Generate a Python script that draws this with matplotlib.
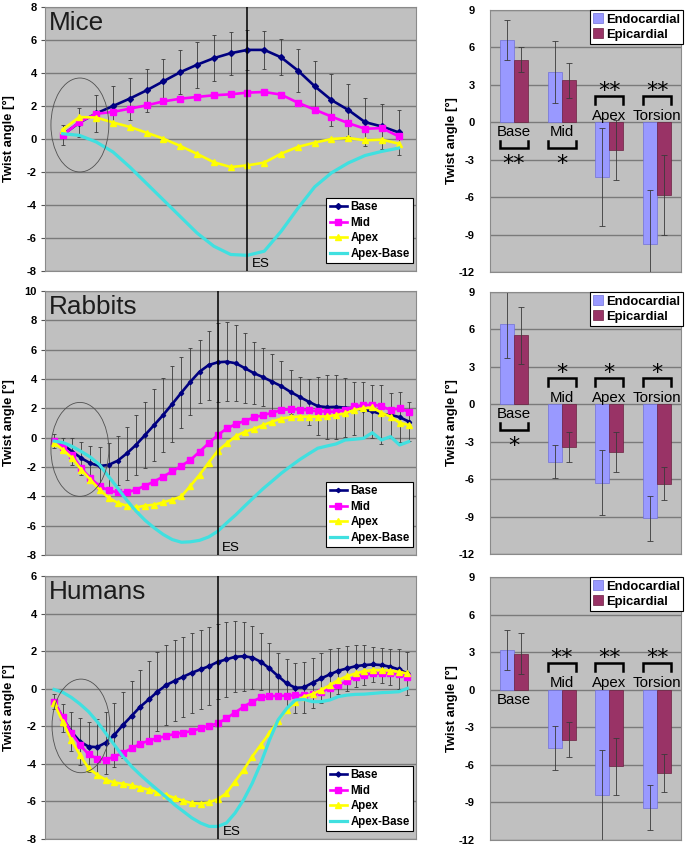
# -*- coding: utf-8 -*-
# Twist angle curves (mice / rabbits / humans) with endo/epi bar summaries

import numpy as np
import matplotlib

matplotlib.use("Agg")
import matplotlib.pyplot as plt
from matplotlib.patches import Ellipse
from matplotlib.transforms import blended_transform_factory

plt.rcParams["font.family"] = ["Liberation Sans", "DejaVu Sans"]
plt.rcParams["axes.unicode_minus"] = False

# ----------------
# Data: line plots
# ----------------

mice_base = [0.25, 1.0, 1.55, 2.0, 2.45, 2.95, 3.5, 4.05, 4.5, 4.9, 5.2,
             5.4, 5.4, 4.95, 4.15, 3.2, 2.36, 1.76, 1.02, 0.76, 0.4]
mice_base_sd = [0.6, 0.9, 1.1, 1.2, 1.27, 1.3, 1.33, 1.35, 1.38, 1.4, 1.3,
                1.2, 1.15, 1.1, 1.3, 1.5, 1.56, 1.6, 1.44, 1.36, 1.36]
mice_mid = [0.22, 1.03, 1.53, 1.64, 1.84, 2.04, 2.28, 2.44, 2.55, 2.65, 2.71,
            2.81, 2.85, 2.69, 2.2, 1.78, 1.36, 0.96, 0.62, 0.66, 0.16]
mice_apex = [0.57, 1.33, 1.3, 1.0, 0.73, 0.38, 0.02, -0.42, -0.9, -1.41, -1.7,
             -1.6, -1.43, -0.89, -0.48, -0.22, 0.0, 0.06, -0.08, -0.04, -0.28]
mice_apex_base = [0.32, 0.22, -0.18, -0.79, -1.7, -2.7, -3.7, -4.7, -5.7, -6.5, -7.0,
                  -7.05, -6.8, -5.6, -4.2, -2.9, -2.05, -1.45, -1.0, -0.75, -0.55]

rab_base = [-0.23, -0.5, -0.95, -1.4, -1.75, -1.93, -1.86, -1.57, -1.07, -0.5,
            0.18, 0.86, 1.55, 2.3, 3.07, 3.82, 4.5, 4.95, 5.14, 5.18,
            5.07, 4.73, 4.39, 4.12, 3.81, 3.51, 3.12, 2.78, 2.45, 2.15,
            2.08, 2.1, 2.05, 2.0, 1.9, 1.8, 1.6, 1.55, 1.4, 1.1]
rab_base_sd = [0.5, 0.5, 0.9, 1.13, 1.18, 1.32, 1.52, 1.68, 1.82, 2.05,
               2.27, 2.44, 2.55, 2.6, 2.43, 2.28, 2.15, 2.35, 2.7, 2.7,
               2.6, 2.4, 2.1, 1.96, 1.9, 1.75, 1.5, 1.38, 1.58, 2.0,
               2.2, 2.2, 2.0, 1.8, 1.9, 1.8, 2.0, 1.5, 1.7, 1.3]
rab_mid = [-0.2, -0.65, -1.2, -2.1, -2.76, -3.3, -3.6, -3.73, -3.73, -3.55,
           -3.28, -2.99, -2.65, -2.3, -1.92, -1.52, -0.95, -0.38, 0.18, 0.63,
           0.93, 1.15, 1.38, 1.54, 1.7, 1.88, 1.94, 1.92, 1.86, 1.8,
           1.78, 1.77, 1.88, 2.15, 2.2, 2.26, 2.15, 1.88, 2.0, 1.77]
rab_apex = [-0.34, -0.84, -1.4, -2.2, -2.87, -3.55, -4.1, -4.45, -4.64, -4.75,
            -4.64, -4.57, -4.41, -4.23, -4.0, -3.28, -2.53, -1.7, -0.9, -0.38,
            0.11, 0.41, 0.6, 0.86, 1.1, 1.3, 1.4, 1.43, 1.43, 1.43,
            1.45, 1.54, 1.65, 1.88, 2.0, 2.06, 1.7, 1.43, 1.02, 0.86]
rab_apex_base = [-0.23, -0.34, -0.6, -0.95, -1.33, -1.85, -2.65, -3.44, -4.27, -5.0,
                 -5.63, -6.15, -6.6, -6.95, -7.13, -7.1, -7.0, -6.77, -6.38, -5.8,
                 -5.25, -4.64, -4.05, -3.47, -2.95, -2.42, -1.95, -1.5, -1.1, -0.72,
                 -0.57, -0.43, -0.16, -0.11, -0.05, 0.34, -0.16, 0.07, -0.5, -0.27]

hum_base = [-0.7, -1.55, -2.28, -2.81, -3.08, -3.11, -2.87, -2.46, -1.93, -1.45,
            -0.96, -0.57, -0.16, 0.19, 0.42, 0.64, 0.85, 1.03, 1.2, 1.43,
            1.56, 1.7, 1.73, 1.66, 1.43, 1.08, 0.67, 0.28, 0.05, 0.07,
            0.32, 0.55, 0.76, 0.96, 1.08, 1.2, 1.26, 1.29, 1.26, 1.17,
            1.03, 0.81]
hum_base_sd = [0.4, 0.75, 1.06, 1.23, 1.33, 1.48, 1.65, 1.72, 1.77, 1.87,
               1.95, 2.04, 2.09, 2.13, 2.16, 2.12, 2.12, 2.12, 2.09, 1.99,
               2.0, 1.88, 1.83, 1.67, 1.51, 1.33, 1.21, 1.28, 1.33, 1.36,
               1.33, 1.33, 1.33, 1.22, 1.19, 1.12, 1.06, 0.94, 0.93, 0.97,
               1.06, 1.15]
hum_mid = [-0.69, -1.49, -2.34, -2.99, -3.49, -3.72, -3.79, -3.61, -3.42, -3.17,
           -2.94, -2.76, -2.64, -2.51, -2.41, -2.34, -2.25, -2.11, -1.98, -1.84,
           -1.58, -1.27, -0.96, -0.69, -0.46, -0.39, -0.38, -0.37, -0.35, -0.34,
           -0.3, -0.16, 0.02, 0.19, 0.42, 0.64, 0.73, 0.81, 0.81, 0.81,
           0.76, 0.64]
hum_apex = [-0.78, -1.75, -2.73, -3.52, -4.23, -4.58, -4.85, -4.99, -5.06, -5.15,
            -5.26, -5.38, -5.5, -5.65, -5.82, -5.96, -6.09, -6.12, -6.05, -5.88,
            -5.56, -4.94, -4.32, -3.61, -2.98, -2.36, -1.72, -1.12, -0.7, -0.42,
            -0.28, -0.07, 0.19, 0.46, 0.67, 0.81, 0.94, 0.99, 0.99, 0.96,
            0.9, 0.81]
hum_apex_base = [-0.04, -0.19, -0.46, -0.81, -1.22, -1.75, -2.37, -2.99, -3.61, -4.14,
                 -4.58, -4.99, -5.38, -5.77, -6.18, -6.53, -6.88, -7.15, -7.33, -7.33,
                 -7.15, -6.62, -5.91, -5.03, -3.96, -2.73, -1.66, -1.05, -0.6, -0.57,
                 -0.69, -0.69, -0.6, -0.42, -0.34, -0.3, -0.29, -0.25, -0.21, -0.19,
                 -0.16, 0.02]

# end-systole position (category index)
mice_es = 11
rab_es = 18
hum_es = 19.05

# ---------------
# Data: bar plots
# ---------------

regions = ["Base", "Mid", "Apex", "Torsion"]

mice_endo = [6.58, 4.01, -4.39, -9.73]
mice_endo_sd = [1.6, 2.47, 3.95, 4.33]
mice_epi = [5.03, 3.37, -2.19, -5.8]
mice_epi_sd = [1.0, 1.4, 2.4, 3.2]
mice_stars = ["**", "*", "**", "**"]
mice_side = ["below", "below", "above", "above"]

rab_endo = [6.4, -4.59, -6.27, -9.15]
rab_endo_sd = [2.65, 1.35, 2.64, 1.8]
rab_epi = [5.52, -3.41, -3.81, -6.35]
rab_epi_sd = [2.3, 1.2, 1.6, 1.3]
rab_stars = ["*", "*", "*", "*"]
rab_side = ["below", "above", "above", "above"]

hum_endo = [3.19, -4.65, -8.43, -9.44]
hum_endo_sd = [1.6, 1.75, 3.6, 1.8]
hum_epi = [2.87, -3.99, -6.12, -6.65]
hum_epi_sd = [1.63, 1.4, 2.3, 1.5]
hum_stars = ["", "**", "**", "**"]
hum_side = ["below", "above", "above", "above"]

# ------
# Styles
# ------

FIG_W, FIG_H = 685, 848
BG = "#c0c0c0"
GRID = "#7a7a7a"


def px_axes(fig, left, top, right, bottom):
    return fig.add_axes([left / FIG_W, 1 - bottom / FIG_H,
                         (right - left) / FIG_W, (bottom - top) / FIG_H])


def style_axes(ax, ylim, step, pad):
    ax.set_facecolor(BG)
    ax.set_ylim(*ylim)
    ax.set_yticks(np.arange(ylim[0], ylim[1] + 0.1, step))
    ax.set_xticks([])
    ax.grid(axis="y", color=GRID, lw=1)
    ax.set_axisbelow(True)
    for sp in ax.spines.values():
        sp.set_color("#8a8a8a")
        sp.set_linewidth(0.8)
    ax.tick_params(axis="y", length=3, pad=pad, color="#555555")
    for lab in ax.get_yticklabels():
        lab.set_fontweight("bold")
        lab.set_fontsize(8)
    ax.set_ylabel("Twist angle [°]", fontsize=9.4, fontweight="bold")


def plot_twist(ax, title, base, base_sd, mid, apex, apex_base, es,
               ylim, xlim, ell, sizes):
    x = np.arange(len(base))
    style_axes(ax, ylim, 2, 3)
    ax.yaxis.set_label_coords(-0.08, 0.5)
    ax.set_xlim(*xlim)
    ms_b, ms_m, ms_a = sizes
    ax.errorbar(x, base, yerr=base_sd, fmt="none", ecolor="#3a3a3a",
                elinewidth=0.6, capsize=1.5, capthick=0.6, zorder=2)
    ax.plot(x, base, color="#000080", lw=1.9, marker="D", ms=ms_b, label="Base", zorder=3)
    ax.plot(x, mid, color="#ff00ff", lw=1.9, marker="s", ms=ms_m, label="Mid", zorder=3)
    ax.plot(x, apex, color="#ffff00", lw=1.9, marker="^", ms=ms_a, label="Apex", zorder=3)
    ax.plot(x, apex_base, color="#40e0e0", lw=2.3, label="Apex-Base", zorder=3)
    ax.axvline(es, color="black", lw=1.1, zorder=4)
    trans = blended_transform_factory(ax.transData, ax.transAxes)
    ax.annotate("ES", xy=(es, 0.0), xycoords=trans, xytext=(3, 1),
                textcoords="offset points", fontsize=9.6, va="bottom", ha="left")
    ax.text(0.01, 0.985, title, transform=ax.transAxes, fontsize=18.8,
            va="top", ha="left", color="#1c1c1c")
    ax.add_patch(Ellipse(ell, 0.156, 0.356, transform=ax.transAxes,
                         fill=False, ec="#505050", lw=0.6, zorder=5))
    leg = ax.legend(loc="lower right", bbox_to_anchor=(0.992, 0.03),
                    prop=dict(weight="bold", size=8.3), fancybox=False,
                    edgecolor="black", framealpha=1, borderpad=0.3,
                    labelspacing=0.3, handlelength=1.5, handletextpad=0.3,
                    borderaxespad=0)
    leg.get_frame().set_linewidth(0.8)


def plot_bars(ax, endo, endo_sd, epi, epi_sd, stars, side):
    x = np.arange(len(regions))
    w = 0.293
    style_axes(ax, (-12, 9), 3, 11)
    ax.yaxis.set_label_coords(-0.168, 0.5)
    ax.tick_params(axis="y", length=0)
    ax.set_xlim(-0.5, 3.5)
    ekw = dict(ecolor="#3a3a3a", elinewidth=0.6, capsize=2, capthick=0.6)
    ax.bar(x - w / 2, endo, w, yerr=endo_sd, color="#9999ff", edgecolor="#7070d8",
           lw=0.5, error_kw=ekw, label="Endocardial", zorder=2)
    ax.bar(x + w / 2, epi, w, yerr=epi_sd, color="#993366", edgecolor="#6a2040",
           lw=0.5, error_kw=ekw, label="Epicardial", zorder=2)
    for i, name in enumerate(regions):
        below = side[i] == "below"
        sgn = -1 if below else 1
        ax.text(i, -1.12 if below else 0.21, name, ha="center", va="baseline",
                fontsize=10.8, zorder=4)
        if stars[i]:
            y_tip, y_bar = sgn * 1.47, sgn * 2.1
            ax.plot([i - w, i - w, i + w, i + w], [y_tip, y_bar, y_bar, y_tip],
                    color="black", lw=1.8, solid_joinstyle="miter", zorder=4)
            # baseline of the asterisks (their ink sits well above it)
            y_star = -3.8 if below else 2.05
            ax.text(i, y_star, stars[i], ha="center", va="baseline",
                    fontsize=16, family="DejaVu Sans", zorder=4)
    leg = ax.legend(loc="upper right", bbox_to_anchor=(1.012, 1.0),
                    prop=dict(weight="bold", size=9.4), fancybox=False,
                    edgecolor="black", framealpha=1, borderpad=0.25,
                    labelspacing=0.2, handlelength=0.75, handleheight=0.75,
                    handletextpad=0.25, borderaxespad=0)
    leg.get_frame().set_linewidth(0.8)


fig = plt.figure(figsize=(FIG_W / 100, FIG_H / 100), dpi=100)

ax = px_axes(fig, 45, 7, 416, 271)
plot_twist(ax, "Mice", mice_base, mice_base_sd, mice_mid, mice_apex, mice_apex_base,
           mice_es, (-8, 8), (-1.05, 21.03), (0.094, 0.553), (3.0, 4.4, 4.6))
ax = px_axes(fig, 45, 291, 416, 555)
plot_twist(ax, "Rabbits", rab_base, rab_base_sd, rab_mid, rab_apex, rab_apex_base,
           rab_es, (-8, 10), (-1.0, 39.8), (0.094, 0.40), (2.2, 3.8, 3.8))
ax = px_axes(fig, 45, 576, 416, 839)
plot_twist(ax, "Humans", hum_base, hum_base_sd, hum_mid, hum_apex, hum_apex_base,
           hum_es, (-8, 6), (-1.05, 42.0), (0.097, 0.43), (2.6, 3.8, 3.8))

ax = px_axes(fig, 490, 10, 681, 272)
plot_bars(ax, mice_endo, mice_endo_sd, mice_epi, mice_epi_sd, mice_stars, mice_side)
ax = px_axes(fig, 490, 292, 681, 554)
plot_bars(ax, rab_endo, rab_endo_sd, rab_epi, rab_epi_sd, rab_stars, rab_side)
ax = px_axes(fig, 490, 577, 681, 840)
plot_bars(ax, hum_endo, hum_endo_sd, hum_epi, hum_epi_sd, hum_stars, hum_side)

fig.savefig("out.png", dpi=100)
